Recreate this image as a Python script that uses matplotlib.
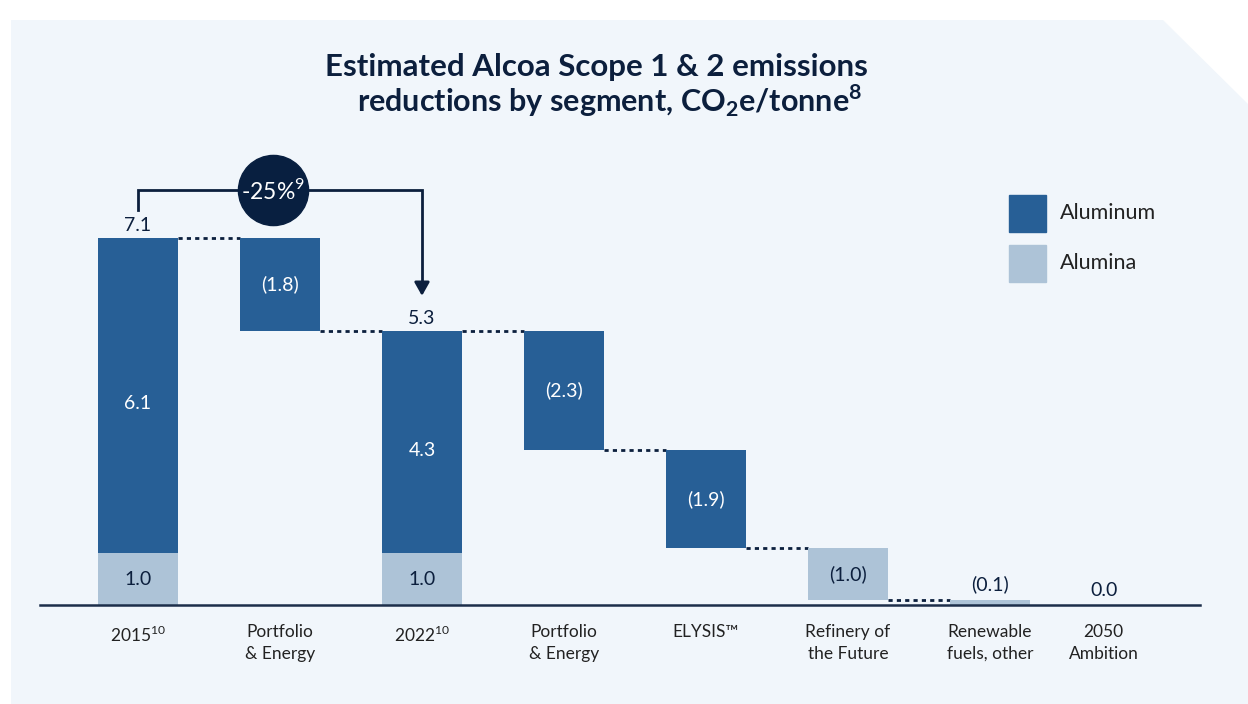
import numpy as np
import matplotlib.pyplot as plt
from matplotlib.patches import Polygon

plt.rcParams['font.family'] = ['Lato', 'DejaVu Sans']
plt.rcParams['mathtext.fontset'] = 'custom'
plt.rcParams['mathtext.rm'] = 'Lato'
plt.rcParams['mathtext.bf'] = 'Lato:bold'

# data
categories = ["2015$^{10}$", "Portfolio\n& Energy", "2022$^{10}$", "Portfolio\n& Energy",
              "ELYSIS™", "Refinery of\nthe Future", "Renewable\nfuels, other", "2050\nAmbition"]
alumina_totals = [1.0, None, 1.0]        # stacked bars: 2015, 2022
aluminum_totals = [6.1, None, 4.3]
totals = [7.1, 5.3]
steps = [-1.8, None, -2.3, -1.9, -1.0, -0.1]   # changes for idx 1,3,4,5,6
step_segment = ["Aluminum", None, "Aluminum", "Aluminum", "Alumina", "Alumina"]
final_value = 0.0
change_pct = "-25%$^9$"

c_alu = "#275f96"
c_alm = "#adc3d7"
navy = "#0c1f3d"
txt = "#222222"
panel = "#f1f6fb"

W, H = 1248, 704
fig = plt.figure(figsize=(W / 100, H / 100), dpi=100)
fig.patch.set_facecolor("white")

# background panel with cut corner
pts = [(11, 20), (1163, 20), (1248, 104), (1248, 704), (11, 704)]
fig.patches.append(Polygon([(x / W, 1 - y / H) for x, y in pts], closed=True,
                           transform=fig.transFigure, facecolor=panel, edgecolor="none", zorder=-5))

ax = fig.add_axes([40 / W, (H - 605) / H, 1160 / W, 465 / H])
ax.set_facecolor("none")
ax.set_zorder(2)
ax.set_xlim(-0.69, 7.479)
ax.set_ylim(0, 9.0)
for s in ["top", "right", "left"]:
    ax.spines[s].set_visible(False)
ax.spines["bottom"].set_color("#1c2e4a")
ax.spines["bottom"].set_linewidth(1.8)
ax.set_yticks([])

xpos = np.arange(8, dtype=float)
xpos[7] = 6.8
bw = 0.563

# stacked bars
for i, k in [(0, 0), (2, 2)]:
    ax.bar(xpos[i], alumina_totals[k], bw, color=c_alm, zorder=2)
    ax.bar(xpos[i], aluminum_totals[k], bw, bottom=alumina_totals[k], color=c_alu, zorder=2)
    ax.text(xpos[i], alumina_totals[k] / 2, f"{alumina_totals[k]:.1f}", ha="center", va="center",
            fontsize=14, color=navy, zorder=3)
    ax.text(xpos[i], alumina_totals[k] + aluminum_totals[k] / 2 - 0.15, f"{aluminum_totals[k]:.1f}",
            ha="center", va="center", fontsize=14, color="white", zorder=3)
    tot = alumina_totals[k] + aluminum_totals[k]
    ax.text(xpos[i], tot + 0.08, f"{tot:.1f}", ha="center", va="bottom", fontsize=14, color=navy)

# waterfall steps
level = totals[0]
prev_right = xpos[0] + bw / 2
for i, d, seg in zip([1, 2, 3, 4, 5, 6], steps, step_segment):
    ax.plot([prev_right, xpos[i] - bw / 2], [level, level], ls=(0, (1.5, 1.5)), color=navy, lw=2, zorder=1)
    prev_right = xpos[i] + bw / 2
    if d is None:
        continue
    new = level + d
    col = c_alu if seg == "Aluminum" else c_alm
    ax.bar(xpos[i], -d, bw, bottom=new, color=col, zorder=2)
    lab = f"({abs(d):.1f})"
    if abs(d) >= 0.5:
        ax.text(xpos[i], new - d / 2, lab, ha="center", va="center", fontsize=14,
                color="white" if seg == "Aluminum" else navy, zorder=3)
    else:
        ax.text(xpos[i], level + 0.12, lab, ha="center", va="bottom", fontsize=14, color=navy)
    level = round(new, 2)

ax.text(xpos[7], final_value + 0.12, f"{final_value:.1f}", ha="center", va="bottom", fontsize=14, color=navy)

# bracket arrow 2015 -> 2022
yb = 8.03
ax.plot([xpos[0], xpos[0], xpos[2], xpos[2]], [7.64, yb, yb, 6.2], color=navy, lw=2, zorder=3,
        solid_joinstyle="miter")
ax.annotate("", xy=(xpos[2], 5.93), xytext=(xpos[2], 6.3),
            arrowprops=dict(arrowstyle="-|>,head_width=0.45,head_length=0.8", color=navy, lw=2))
ax.scatter([0.95], [yb], s=2550, color="#081f40", zorder=4, clip_on=False)
ax.text(0.95, yb, change_pct, ha="center", va="center", fontsize=16.5, color="white", zorder=5)

ax.set_xticks(xpos)
ax.set_xticklabels(categories, fontsize=12.5, color=txt, linespacing=1.4)
ax.tick_params(axis="x", length=0, pad=14)

# legend
for j, (lab, col) in enumerate([("Aluminum", c_alu), ("Alumina", c_alm)]):
    y0 = 195 + j * 50
    fig.patches.append(plt.Rectangle((1009 / W, 1 - (y0 + 37) / H), 37 / W, 37 / H,
                                     transform=fig.transFigure, color=col, zorder=1))
    fig.text(1060 / W, 1 - (y0 + 18) / H, lab, ha="left", va="center", fontsize=15.5, color=txt)

# title
fig.text(596 / W, 1 - 67 / H, "Estimated Alcoa Scope 1 & 2 emissions", ha="center", va="center",
         fontsize=22.5, fontweight="bold", color="#0c1f3d")
fig.text(610 / W, 1 - 101 / H, r"reductions by segment, CO$_\mathbf{2}$e/tonne$^\mathbf{8}$",
         ha="center", va="center", fontsize=22, fontweight="bold", color="#0c1f3d")

fig.savefig("out.png", dpi=100, facecolor=fig.get_facecolor())
